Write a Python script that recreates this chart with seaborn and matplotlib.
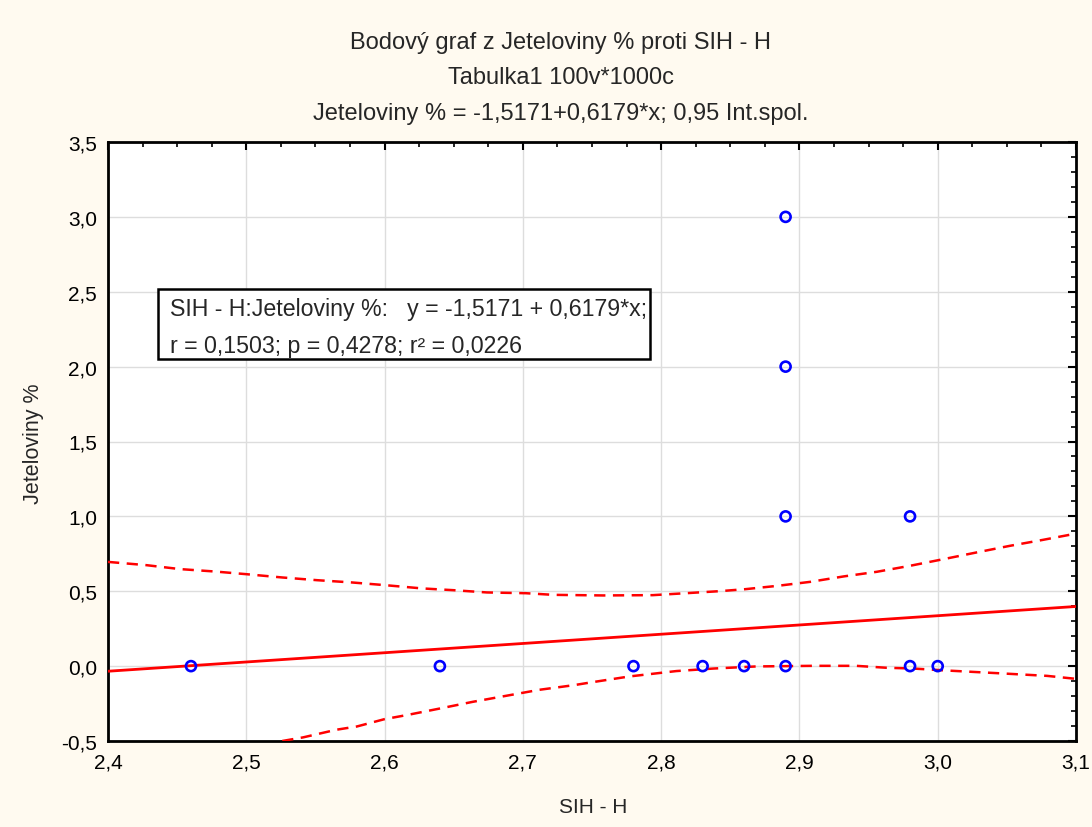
import matplotlib
matplotlib.use("Agg")
import matplotlib.pyplot as plt
import seaborn as sns
import pandas as pd
from matplotlib.ticker import MultipleLocator, FuncFormatter
from matplotlib.patches import Rectangle

# ---------------- data ----------------
sih_h = [2.46, 2.64, 2.78, 2.83, 2.86, 2.89, 2.89, 2.89, 2.89, 2.98, 2.98, 3.00]
jeteloviny = [0, 0, 0, 0, 0, 0, 1, 2, 3, 0, 1, 0]

intercept = -1.5171
slope = 0.6179

upper_x = [2.400, 2.428, 2.452, 2.477, 2.500, 2.526, 2.551, 2.576, 2.600, 2.627,
           2.650, 2.674, 2.702, 2.722, 2.758, 2.794, 2.818, 2.843, 2.861, 2.884,
           2.908, 2.932, 2.956, 2.980, 3.004, 3.028, 3.052, 3.076, 3.100]
upper_y = [0.696, 0.674, 0.648, 0.632, 0.614, 0.592, 0.574, 0.559, 0.541, 0.519,
           0.507, 0.492, 0.487, 0.476, 0.472, 0.474, 0.487, 0.501, 0.514, 0.536,
           0.563, 0.599, 0.630, 0.670, 0.714, 0.759, 0.803, 0.843, 0.885]

lower_x = [2.526, 2.541, 2.565, 2.580, 2.600, 2.616, 2.640, 2.664, 2.688, 2.712,
           2.737, 2.749, 2.777, 2.811, 2.838, 2.869, 2.910, 2.941, 2.963, 2.982,
           3.006, 3.043, 3.079, 3.100]
lower_y = [-0.500, -0.476, -0.425, -0.403, -0.354, -0.327, -0.283, -0.238, -0.198, -0.158,
           -0.127, -0.109, -0.069, -0.033, -0.016, -0.002, 0.002, 0.002, -0.011, -0.016,
           -0.029, -0.047, -0.065, -0.085]

x_limits = [2.4, 3.1]
y_limits = [-0.5, 3.5]

title_lines = ["Bodový graf z Jeteloviny % proti SIH - H",
               "Tabulka1 100v*1000c",
               "Jeteloviny % = -1,5171+0,6179*x; 0,95 Int.spol."]
box_lines = ["SIH - H:Jeteloviny %:   y = -1,5171 + 0,6179*x;",
             "r = 0,1503; p = 0,4278; r² = 0,0226"]
x_label = "SIH - H"
y_label = "Jeteloviny %"

# ---------------- style ----------------
sns.set_style("white")
plt.rcParams["font.family"] = ["Liberation Sans", "DejaVu Sans"]

bg = "#FFFAF0"
fig = plt.figure(figsize=(10.92, 8.28), dpi=100, facecolor=bg)
ax = fig.add_axes([108 / 1092, 1 - 742 / 828, 968 / 1092, 599 / 828])
ax.set_facecolor("white")

# grid
ax.grid(True, which="major", color="#dddddd", linewidth=1.0, zorder=0)
ax.set_axisbelow(True)

# regression line
df_line = pd.DataFrame({"x": x_limits,
                        "y": [intercept + slope * v for v in x_limits]})
sns.lineplot(data=df_line, x="x", y="y", color="#FF0000", linewidth=2.0,
             ax=ax, estimator=None, zorder=3)

# confidence bands
df_up = pd.DataFrame({"x": upper_x, "y": upper_y})
df_lo = pd.DataFrame({"x": lower_x, "y": lower_y})
for d in (df_up, df_lo):
    sns.lineplot(data=d, x="x", y="y", color="#FF0000", linewidth=1.8,
                 ax=ax, estimator=None, zorder=3, dashes=False)
for ln in ax.lines[1:]:
    ln.set_dashes([4.5, 3])

# scatter points
df_pts = pd.DataFrame({"SIH - H": sih_h, "Jeteloviny %": jeteloviny})
sns.scatterplot(data=df_pts, x="SIH - H", y="Jeteloviny %", ax=ax, marker="o",
                s=52, facecolor="none", edgecolor="#0000FF", linewidth=1.9,
                zorder=4, clip_on=False)

# axes
ax.set_xlim(*x_limits)
ax.set_ylim(*y_limits)
ax.xaxis.set_major_locator(MultipleLocator(0.1))
ax.xaxis.set_minor_locator(MultipleLocator(0.025))
ax.yaxis.set_major_locator(MultipleLocator(0.5))
ax.yaxis.set_minor_locator(MultipleLocator(0.1))
fmt = FuncFormatter(lambda v, p: f"{v:.1f}".replace(".", ","))
ax.xaxis.set_major_formatter(fmt)
ax.yaxis.set_major_formatter(fmt)
ax.tick_params(which="both", direction="in", top=True, right=True,
               colors="black", labelsize=15)
ax.tick_params(which="major", length=6, width=1.5, pad=8)
ax.tick_params(which="minor", length=3.5, width=1.2)
for s in ax.spines.values():
    s.set_visible(True)
    s.set_color("black")
    s.set_linewidth(2.0)
ax.set_xlabel("")
ax.set_ylabel("")

fig.text(593 / 1092, 1 - 808 / 828, x_label, ha="center", va="center", fontsize=15)
fig.text(33 / 1092, 1 - 444 / 828, y_label, ha="center", va="center",
         rotation=90, fontsize=15.5)

# titles
for txt, ypx in zip(title_lines, [49.5, 83.5, 120]):
    fig.text(561 / 1092, 1 - ypx / 828, txt, ha="center", va="baseline", fontsize=17)

# info box
bx0, bx1 = (158 - 108) / 968, (650 - 108) / 968
by0, by1 = (742 - 360) / 599, (742 - 290) / 599
ax.add_patch(Rectangle((bx0, by0), bx1 - bx0, by1 - by0, transform=ax.transAxes,
                       facecolor="white", edgecolor="black", linewidth=1.8, zorder=5))
for txt, ypx in zip(box_lines, [316.5, 353]):
    ax.text((170 - 108) / 968, (742 - ypx) / 599, txt, transform=ax.transAxes,
            ha="left", va="baseline", fontsize=16.7, zorder=6)

fig.savefig("out.png", dpi=100, facecolor=bg)
